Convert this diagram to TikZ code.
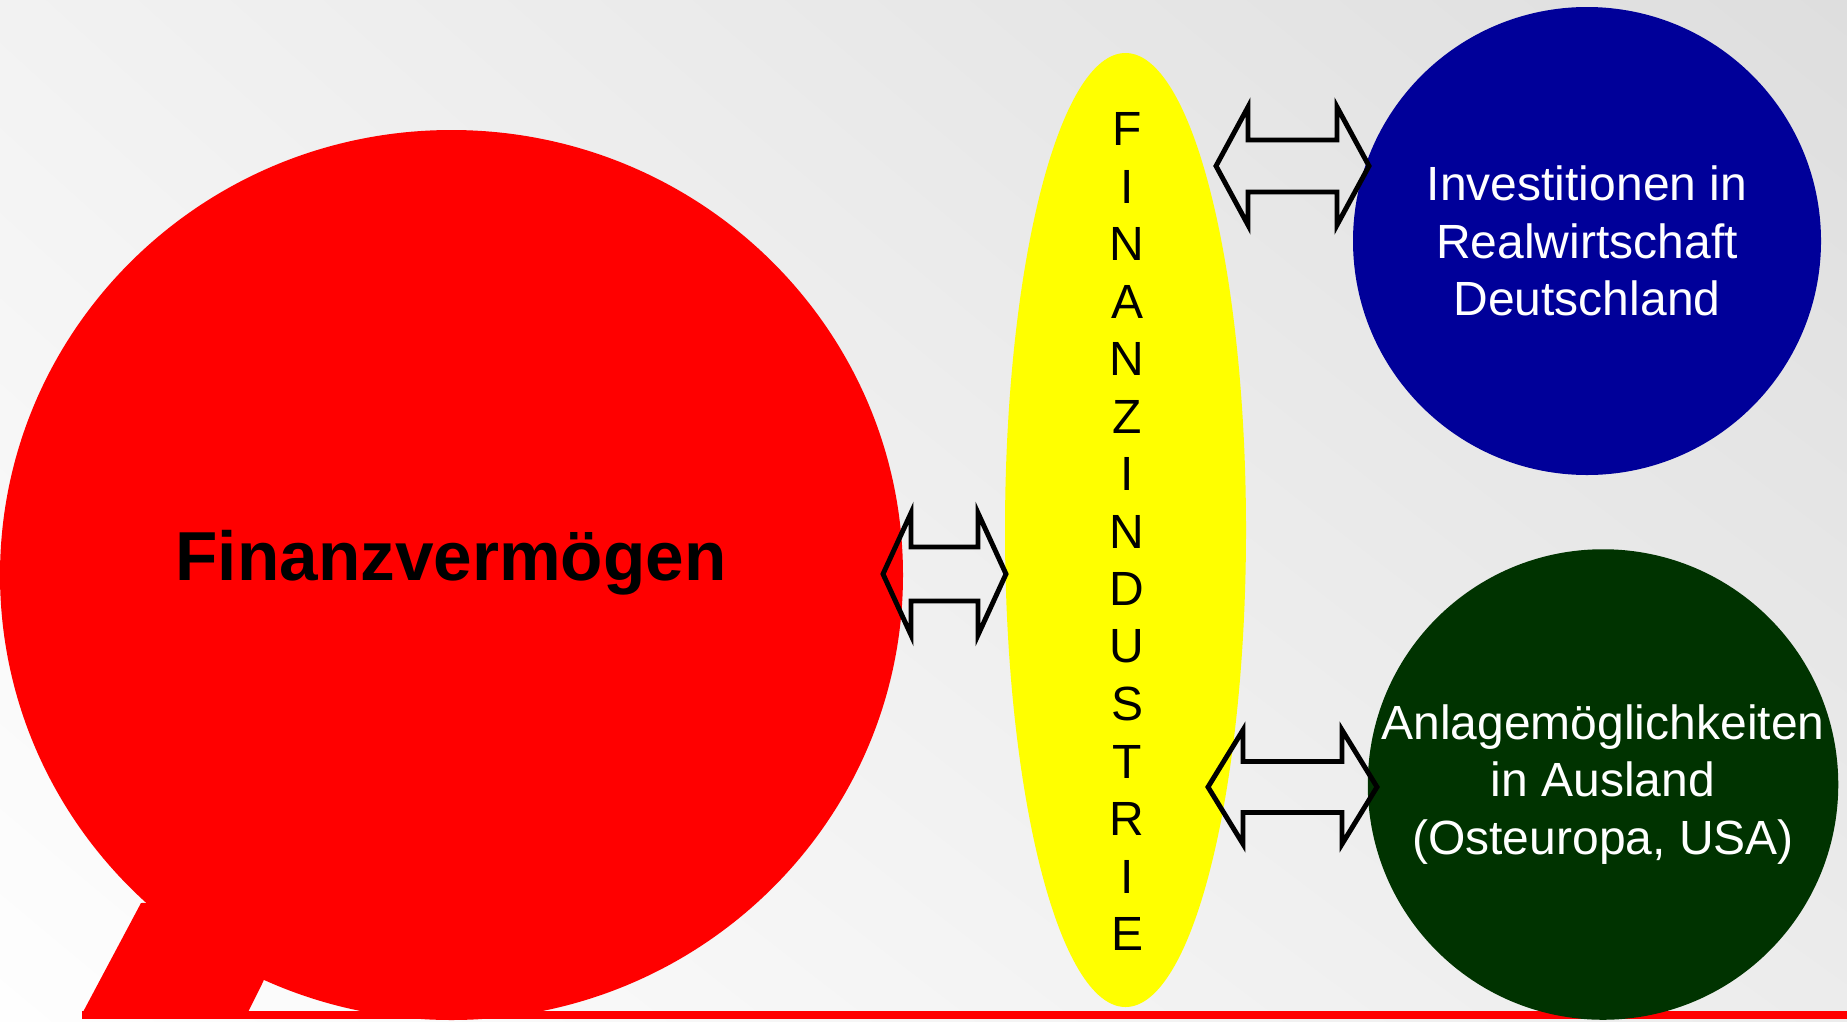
\documentclass[tikz,border=0pt]{standalone}
\usepackage{fontspec}
\setmainfont{Liberation Sans}
\usetikzlibrary{shapes.geometric,shadings}

\definecolor{fvred}{RGB}{255,0,0}
\definecolor{fiyellow}{RGB}{255,255,0}
\definecolor{invblue}{RGB}{0,0,153}
\definecolor{anlgreen}{RGB}{0,51,0}
\definecolor{bgtl}{RGB}{242,242,242}
\definecolor{bgtr}{RGB}{222,222,222}
\definecolor{bgbl}{RGB}{254,254,254}
\definecolor{bgbr}{RGB}{236,236,236}

\begin{document}
\begin{tikzpicture}[x=0.75pt,y=-0.75pt,
    blockarrow/.style={draw=black,line width=3.7pt,miter limit=10},
    bigcircle/.style={circle,inner sep=0pt,minimum size=351pt,text=white,
      align=center,font=\fontsize{36}{43}\selectfont}]
      % Canvas
      \useasboundingbox (0,0) rectangle (1847,1021);
      \shade[upper left=bgtl,upper right=bgtr,lower left=bgbl,lower right=bgbr]
        (0,0) rectangle (1847,1021);

      % Base line and tail of the red bubble
      \draw[fvred,line width=6pt] (82,1015) -- (1847,1015);
      \fill[fvred] (141,903) -- (83,1012) -- (248,1012) -- (262,984) -- (300,900) -- cycle;

      % Red bubble
      \node[ellipse,fill=fvred,inner sep=0pt,minimum width=677.25pt,minimum height=667.5pt]
        (fv) at (451.5,575) {};
      \node[font=\fontsize{52}{62}\selectfont\bfseries] (fvtext) at (451,563) {Finanzvermögen};

      % Yellow ellipse with vertical letters
      \node[ellipse,fill=fiyellow,inner sep=0pt,minimum width=180.75pt,minimum height=715.5pt]
        (fi) at (1125.5,530) {};
      \foreach \l [count=\i] in {F,I,N,A,N,Z,I,N,D,U,S,T,R,I,E} {
        \node[font=\fontsize{36}{43}\selectfont] (fl\i) at (1127,{129+57.5*(\i-1)}) {\l};
      }

      % Right circles
      \node[bigcircle,fill=invblue] (inv) at (1587,241)
        {Investitionen in\\Realwirtschaft\\Deutschland};
      \node[bigcircle,fill=anlgreen] (anl) at (1603,784.5)
        {Anlagemöglichkeiten\\in Ausland\\(Osteuropa, USA)};

      % Double block arrows: left tip / right tip / middle / head / shaft / head length
      \foreach \xa/\xb/\yc/\hh/\sh/\hl in {883/1006/574/61/27/28,
                                             1216/1369/166/59/26/32,
                                             1208/1377/787/57/25.5/35} {
        \draw[blockarrow] (\xa,\yc) -- (\xa+\hl,\yc-\hh) -- (\xa+\hl,\yc-\sh)
          -- (\xb-\hl,\yc-\sh) -- (\xb-\hl,\yc-\hh) -- (\xb,\yc)
          -- (\xb-\hl,\yc+\hh) -- (\xb-\hl,\yc+\sh) -- (\xa+\hl,\yc+\sh)
          -- (\xa+\hl,\yc+\hh) -- cycle;
      }
    \end{tikzpicture}
\end{document}
